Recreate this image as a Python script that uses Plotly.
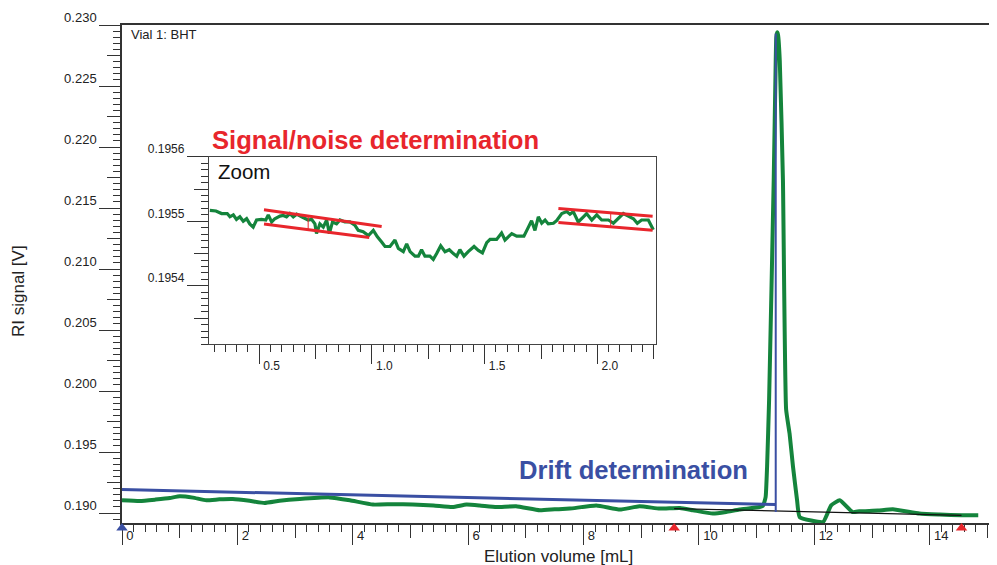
import plotly.graph_objects as go

# ---------------- data ----------------
# main RI trace (elution volume mL, signal V)
main_x = [0, 0.31, 0.58, 0.83, 1.0, 1.23, 1.46, 1.69, 1.92, 2.21, 2.47, 2.73, 3.08, 3.6,
          3.95, 4.35, 4.7, 5.04, 5.4, 5.73, 5.97, 6.2, 6.49, 6.83, 7.24, 7.5, 7.76, 8.22,
          8.63, 8.97, 9.32, 9.67, 9.9, 10.24, 10.47, 10.7, 11.05, 11.11, 11.155, 11.18,
          11.215, 11.295, 11.33, 11.34, 11.355, 11.37, 11.40, 11.455, 11.51, 11.57, 11.63,
          11.70, 11.745, 12.15, 12.29, 12.44, 12.66, 12.78, 13.1, 13.36, 13.82, 14.17,
          14.55, 14.84]
main_y = [0.19104, 0.19098, 0.19110, 0.19123, 0.19137, 0.19126, 0.19104, 0.19112, 0.19115,
          0.19100, 0.19082, 0.19100, 0.19115, 0.19128, 0.19104, 0.19069, 0.19072, 0.19069,
          0.19062, 0.19049, 0.19069, 0.19062, 0.19049, 0.19055, 0.19022, 0.19030, 0.19036,
          0.19061, 0.19028, 0.19055, 0.19036, 0.19041, 0.19022, 0.18995, 0.19008, 0.19028,
          0.19049, 0.19060, 0.19131, 0.19377, 0.19924, 0.21728, 0.22711, 0.22900, 0.22940,
          0.22920, 0.22711, 0.21728, 0.19850, 0.19651, 0.19377, 0.19104, 0.18967, 0.18926,
          0.19063, 0.19104, 0.19008, 0.19014, 0.19020, 0.19030, 0.18995, 0.18987, 0.18981,
          0.18981]

# drift determination line
drift_x = [0, 11.33]
drift_y = [0.19192, 0.19069]
drift_v_x = [11.33, 11.33]
drift_v_y = [0.19008, 0.22930]

# integration baseline
base_x = [9.57, 14.55]
base_y = [0.19036, 0.18981]

# peak limit markers (elution volume)
limit_red_x = [9.57, 14.55]
limit_blue_x = [0.0]

# zoomed noise region
inset_x = [0.281, 0.308, 0.333, 0.358, 0.370, 0.385, 0.399, 0.414, 0.429, 0.444, 0.458,
           0.473, 0.488, 0.510, 0.529, 0.540, 0.555, 0.569, 0.592, 0.606, 0.621, 0.636,
           0.651, 0.666, 0.688, 0.703, 0.717, 0.732, 0.747, 0.754, 0.769, 0.784, 0.799,
           0.811, 0.825, 0.843, 0.858, 0.880, 0.902, 0.924, 0.939, 0.961, 0.984, 1.006,
           1.024, 1.043, 1.058, 1.080, 1.102, 1.117, 1.139, 1.154, 1.169, 1.191, 1.206,
           1.220, 1.235, 1.257, 1.272, 1.287, 1.305, 1.324, 1.343, 1.361, 1.376, 1.390,
           1.408, 1.427, 1.453, 1.472, 1.490, 1.509, 1.524, 1.553, 1.575, 1.590, 1.620,
           1.642, 1.674, 1.694, 1.708, 1.723, 1.738, 1.753, 1.768, 1.782, 1.805, 1.819,
           1.842, 1.864, 1.878, 1.893, 1.915, 1.938, 1.952, 1.975, 1.997, 2.019, 2.049,
           2.071, 2.093, 2.115, 2.137, 2.160, 2.177, 2.196, 2.226, 2.248]
inset_y = [0.195517, 0.195516, 0.195512, 0.195512, 0.195507, 0.195510, 0.195503, 0.195507,
           0.195500, 0.195504, 0.195496, 0.195491, 0.195502, 0.195503, 0.195502, 0.195510,
           0.195499, 0.195504, 0.195508, 0.195509, 0.195507, 0.195512, 0.195507, 0.195511,
           0.195507, 0.195504, 0.195502, 0.195503, 0.195496, 0.195481, 0.195496, 0.195491,
           0.195502, 0.195481, 0.195499, 0.195496, 0.195502, 0.195499, 0.195499, 0.195494,
           0.195486, 0.195484, 0.195478, 0.195486, 0.195476, 0.195468, 0.195461, 0.195461,
           0.195471, 0.195458, 0.195453, 0.195465, 0.195453, 0.195446, 0.195446, 0.195456,
           0.195446, 0.195446, 0.195441, 0.195450, 0.195462, 0.195453, 0.195456, 0.195450,
           0.195446, 0.195456, 0.195446, 0.195453, 0.195461, 0.195455, 0.195451, 0.195467,
           0.195472, 0.195472, 0.195482, 0.195471, 0.195481, 0.195477, 0.195477, 0.195491,
           0.195501, 0.195486, 0.195507, 0.195497, 0.195502, 0.195496, 0.195497, 0.195501,
           0.195512, 0.195515, 0.195511, 0.195515, 0.195499, 0.195507, 0.195512, 0.195502,
           0.195510, 0.195502, 0.195502, 0.195497, 0.195504, 0.195512, 0.195508, 0.195504,
           0.195497, 0.195502, 0.195502, 0.195487]

# noise envelopes
sn1_up_x, sn1_up_y = [0.521, 1.043], [0.195518, 0.195492]
sn1_lo_x, sn1_lo_y = [0.521, 0.988], [0.195496, 0.195475]
sn1_v_x, sn1_v_y = [0.717, 0.717], [0.195508, 0.195488]
sn2_up_x, sn2_up_y = [1.827, 2.245], [0.195520, 0.195508]
sn2_lo_x, sn2_lo_y = [1.827, 2.245], [0.195498, 0.195486]
sn2_v_x, sn2_v_y = [2.059, 2.059], [0.195513, 0.195491]

GREEN = "#14843c"
BLUE = "#3a4fa3"
RED = "#e8262c"
AX = "#333333"
FONT = "Liberation Sans, Arial, sans-serif"

fig = go.Figure()

# main plot
fig.add_trace(go.Scatter(x=main_x, y=main_y, mode="lines",
                         line=dict(color=GREEN, width=4, shape="spline", smoothing=0.4)))
fig.add_trace(go.Scatter(x=base_x, y=base_y, mode="lines", line=dict(color="#111111", width=1.2)))
fig.add_trace(go.Scatter(x=drift_x, y=drift_y, mode="lines", line=dict(color=BLUE, width=3)))
fig.add_trace(go.Scatter(x=drift_v_x, y=drift_v_y, mode="lines", line=dict(color=BLUE, width=2)))

# limit markers in a thin strip just below the x axis
fig.add_trace(go.Scatter(x=limit_red_x, y=[0.5] * len(limit_red_x), mode="markers",
                         xaxis="x5", yaxis="y5", cliponaxis=False,
                         marker=dict(symbol="triangle-up", size=10, color=RED)))
fig.add_trace(go.Scatter(x=limit_blue_x, y=[0.5] * len(limit_blue_x), mode="markers",
                         xaxis="x5", yaxis="y5", cliponaxis=False,
                         marker=dict(symbol="triangle-up", size=10, color=BLUE)))

# inset
fig.add_trace(go.Scatter(x=inset_x, y=inset_y, mode="lines", xaxis="x2", yaxis="y2",
                         line=dict(color=GREEN, width=3.2)))
for xs, ys, w in [(sn1_up_x, sn1_up_y, 3), (sn1_lo_x, sn1_lo_y, 3), (sn1_v_x, sn1_v_y, 1),
                  (sn2_up_x, sn2_up_y, 3), (sn2_lo_x, sn2_lo_y, 3), (sn2_v_x, sn2_v_y, 1)]:
    fig.add_trace(go.Scatter(x=xs, y=ys, mode="lines", xaxis="x2", yaxis="y2",
                             line=dict(color=RED, width=w)))

# empty traces to attach medium-tick overlay axes
fig.add_trace(go.Scatter(x=[], y=[], xaxis="x3", yaxis="y"))
fig.add_trace(go.Scatter(x=[], y=[], xaxis="x", yaxis="y3"))
fig.add_trace(go.Scatter(x=[], y=[], xaxis="x4", yaxis="y2"))
fig.add_trace(go.Scatter(x=[], y=[], xaxis="x2", yaxis="y4"))

tickfont = dict(family=FONT, size=13, color="#222222")
itickfont = dict(family=FONT, size=12, color="#222222")

XR = [0, 15.165]
YR = [0.18918, 0.2300]
IXR = [0.277, 2.26]
IYR = [0.19531, 0.19560]
D0 = 10 / 508          # thin strip for limit markers
MYD = [D0, 1]
IXD = [0.0994, 0.6103]
IYD = [D0 + 0.3594 * (1 - D0), D0 + 0.7355 * (1 - D0)]

fig.update_layout(
    width=989, height=557,
    margin=dict(l=114, r=0, t=17, b=32),
    paper_bgcolor="white", plot_bgcolor="rgba(0,0,0,0)",
    showlegend=False,
    font=dict(family=FONT),
    xaxis=dict(range=XR, domain=[0, 1], anchor="y", showgrid=False, zeroline=False,
               showline=True, linecolor=AX, linewidth=1.5, mirror=True,
               ticks="outside", ticklen=20, tickcolor=AX, tickwidth=1,
               tickmode="linear", tick0=0, dtick=2, tickformat="d",
               ticklabelposition="outside right", ticklabelshift=3,
               tickfont=tickfont,
               minor=dict(ticks="outside", ticklen=7, dtick=0.2, tick0=0, tickcolor=AX,
                          tickwidth=1, showgrid=False)),
    yaxis=dict(range=YR, domain=MYD, anchor="x", showgrid=False, zeroline=False,
               showline=True, linecolor=AX, linewidth=1.5,
               ticks="outside", ticklen=21, tickcolor=AX, tickwidth=1,
               tickmode="linear", tick0=0.19, dtick=0.005, tickformat=".3f",
               ticklabelshift=-8, tickfont=tickfont,
               minor=dict(ticks="outside", ticklen=7, dtick=0.0005, tick0=0.19,
                          tickcolor=AX, tickwidth=1, showgrid=False)),
    xaxis3=dict(range=XR, overlaying="x", anchor="y", showgrid=False, zeroline=False,
                showline=False, ticks="outside", ticklen=14, tickcolor=AX, tickwidth=1,
                tickmode="linear", tick0=1, dtick=2, showticklabels=False),
    yaxis3=dict(range=YR, overlaying="y", anchor="x", showgrid=False, zeroline=False,
                showline=False, ticks="outside", ticklen=14, tickcolor=AX, tickwidth=1,
                tickmode="linear", tick0=0.1925, dtick=0.005, showticklabels=False),
    xaxis5=dict(range=XR, domain=[0, 1], anchor="y5", visible=False),
    yaxis5=dict(range=[0, 1], domain=[0, D0], anchor="x5", visible=False),
    xaxis2=dict(range=IXR, domain=IXD, anchor="y2", showgrid=False, zeroline=False,
                showline=True, linecolor="#444444", linewidth=1.2, mirror=True,
                ticks="outside", ticklen=19, tickcolor=AX, tickwidth=1,
                tickmode="linear", tick0=0, dtick=0.5, tickformat=".1f",
                ticklabelposition="outside right", ticklabelshift=3, ticklabelstandoff=10,
                tickfont=itickfont,
                minor=dict(ticks="outside", ticklen=7, dtick=0.05, tick0=0, tickcolor=AX,
                           tickwidth=1, showgrid=False)),
    yaxis2=dict(range=IYR, domain=IYD, anchor="x2", showgrid=False, zeroline=False,
                showline=True, linecolor="#444444", linewidth=1.2, mirror=True,
                ticks="outside", ticklen=21, tickcolor=AX, tickwidth=1,
                tickmode="linear", tick0=0.1954, dtick=0.0001, tickformat=".4f",
                ticklabelshift=-8, tickfont=itickfont,
                minor=dict(ticks="outside", ticklen=7, dtick=0.00001, tick0=0.1954,
                           tickcolor=AX, tickwidth=1, showgrid=False)),
    xaxis4=dict(range=IXR, overlaying="x2", anchor="y2", showgrid=False, zeroline=False,
                showline=False, ticks="outside", ticklen=14, tickcolor=AX, tickwidth=1,
                tickmode="linear", tick0=0.25, dtick=0.5, showticklabels=False),
    yaxis4=dict(range=IYR, overlaying="y2", anchor="x2", showgrid=False, zeroline=False,
                showline=False, ticks="outside", ticklen=14, tickcolor=AX, tickwidth=1,
                tickmode="linear", tick0=0.19535, dtick=0.0001, showticklabels=False),
)

ann = [
    dict(text="Vial 1: BHT", x=0.008, y=0.98, xanchor="left", yanchor="middle",
         font=dict(family=FONT, size=13, color="#222222")),
    dict(text="<b>Signal/noise determination</b>", x=0.1006, y=0.769, xanchor="left",
         yanchor="middle", font=dict(family=FONT, size=25.6, color=RED)),
    dict(text="Zoom", x=0.1074, y=0.7068, xanchor="left", yanchor="middle",
         font=dict(family=FONT, size=20.5, color="#111111")),
    dict(text="<b>Drift determination</b>", x=0.4514, y=0.1064, xanchor="left",
         yanchor="middle", font=dict(family=FONT, size=25.6, color=BLUE)),
    dict(text="RI signal [V]", x=-0.1177, y=0.4659, xanchor="center", yanchor="middle",
         textangle=-90, font=dict(family=FONT, size=17, color="#222222")),
    dict(text="Elution volume [mL]", x=0.4994, y=-0.0663, xanchor="center",
         yanchor="middle", font=dict(family=FONT, size=17, color="#222222")),
]
for a in ann:
    a.update(xref="x domain", yref="y domain", showarrow=False)
fig.update_layout(annotations=ann)

fig.write_html("out.html")
